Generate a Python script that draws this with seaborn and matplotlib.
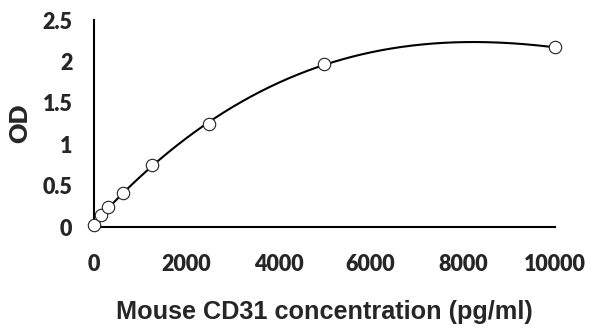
import numpy as np
import pandas as pd
import matplotlib
matplotlib.use("Agg")
import matplotlib.pyplot as plt
import seaborn as sns

# standard curve data
conc = [0, 156.25, 312.5, 625, 1250, 2500, 5000, 10000]
od = [0.025, 0.145, 0.24, 0.41, 0.75, 1.25, 1.965, 2.17]
xticks = [0, 2000, 4000, 6000, 8000, 10000]
yticks = [0, 0.5, 1, 1.5, 2, 2.5]
ytick_labels = ["0", "0.5", "1", "1.5", "2", "2.5"]

sns.set_style("white")
plt.rcParams['font.family'] = ['Lato', 'DejaVu Sans']

df = pd.DataFrame({"conc": conc, "od": od})

# polynomial trendline (3rd order)
coef = np.polyfit(df["conc"], df["od"], 3)
xs = np.linspace(0, 10000, 300)
fit = pd.DataFrame({"conc": xs, "od": np.polyval(coef, xs)})

fig = plt.figure(figsize=(5.91, 3.34), dpi=100)
ax = fig.add_axes([0.159, 0.32, 0.78, 0.62])

sns.lineplot(data=fit, x="conc", y="od", ax=ax, color="black", linewidth=1.5)
sns.scatterplot(data=df, x="conc", y="od", ax=ax, s=80, facecolor="white",
                edgecolor="#222222", linewidth=0.8, zorder=3, clip_on=False)

ax.set_xlim(0, 10000)
ax.set_ylim(0, 2.5)
ax.set_xticks(xticks)
ax.set_xticklabels([str(t) for t in xticks])
ax.set_yticks(yticks)
ax.set_yticklabels(ytick_labels)

for s in ["top", "right"]:
    ax.spines[s].set_visible(False)
for s in ["left", "bottom"]:
    ax.spines[s].set_color("black")
    ax.spines[s].set_linewidth(1.5)

ax.tick_params(axis="both", which="major", direction="out", length=5.5, width=1.4,
               color="black", labelsize=15.5)
ax.tick_params(axis="y", pad=10)
ax.tick_params(axis="x", pad=14)
for lab in ax.get_xticklabels() + ax.get_yticklabels():
    lab.set_fontweight("heavy")

ax.set_xlabel("Mouse CD31 concentration (pg/ml)", fontsize=18.2, fontweight="bold",
              family=["Liberation Sans", "DejaVu Sans"], labelpad=18)
ax.set_ylabel("OD", fontsize=18, fontweight="heavy", labelpad=8)

fig.savefig("out.png", dpi=100)
